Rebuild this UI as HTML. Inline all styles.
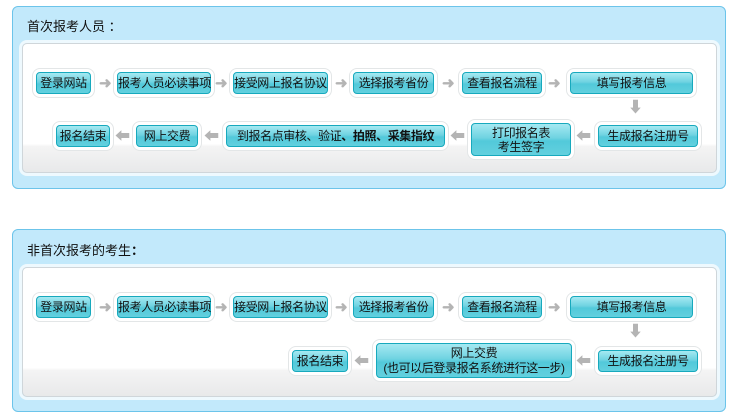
<!DOCTYPE html>
<html><head><meta charset="utf-8">
<style>
*{margin:0;padding:0;box-sizing:border-box}
body{width:737px;height:416px;background:#fff;position:relative;overflow:hidden;font-family:"Liberation Sans","Noto Sans CJK SC","WenQuanYi Zen Hei",sans-serif;}
.outer{position:absolute;left:12px;width:714px;border:1px solid #6cc4ea;border-radius:6px;background:#c2e9fb;}
.hd{position:absolute;left:27px;font-size:13px;color:#111;}
.inner{position:absolute;left:22px;width:695px;border:1px solid #cfd6da;border-radius:5px;background:linear-gradient(#fff 0%,#fff 78%,#f4f4f4 80%,#e8e9ea 100%);box-shadow:0 0 0 3px #eef9fe;}
.b{position:absolute;height:22px;border:1px solid #17a9bd;border-radius:4px;background:linear-gradient(#a6e9f2 0%,#6fd3e1 45%,#52c9da 55%,#63d0de 100%);font-size:12px;letter-spacing:-0.4px;line-height:20px;text-align:center;color:#111;box-shadow:0 0 0 3px #fff,0 0 0 4px #e3e6e7;white-space:nowrap;}
.a{position:absolute;color:#b4b4b4;font-size:15px;line-height:15px;font-weight:bold;}
</style></head><body>

<div class="outer" style="top:6px;height:183px"></div>
<div class="hd" style="top:16px">首次报考人员 ：</div>
<div class="inner" style="top:43px;height:130px"></div>

<div class="b" style="left:36px;top:72px;width:55px">登录网站</div>
<div class="a" style="left:99px;top:76px">➜</div>
<div class="b" style="left:117px;top:72px;width:94px">报考人员必读事项</div>
<div class="a" style="left:215px;top:76px">➜</div>
<div class="b" style="left:233px;top:72px;width:95px">接受网上报名协议</div>
<div class="a" style="left:335px;top:76px">➜</div>
<div class="b" style="left:353px;top:72px;width:81px">选择报考省份</div>
<div class="a" style="left:442px;top:76px">➜</div>
<div class="b" style="left:462px;top:72px;width:80px">查看报名流程</div>
<div class="a" style="left:548px;top:76px">➜</div>
<div class="b" style="left:570px;top:72px;width:123px">填写报考信息</div>
<div class="a" style="left:628px;top:100px">⬇</div>

<div class="b" style="left:56px;top:125px;width:54px">报名结束</div>
<div class="a" style="left:115px;top:129px">⬅</div>
<div class="b" style="left:136px;top:125px;width:62px">网上交费</div>
<div class="a" style="left:204px;top:129px">⬅</div>
<div class="b" style="left:226px;top:125px;width:219px">到报名点审核、验证<b>、拍照、采集指纹</b></div>
<div class="a" style="left:450px;top:129px">⬅</div>
<div class="b" style="left:471px;top:123px;width:100px;height:33px;line-height:14px;padding-top:2px">打印报名表<br>考生签字</div>
<div class="a" style="left:576px;top:129px">⬅</div>
<div class="b" style="left:598px;top:125px;width:100px">生成报名注册号</div>

<div class="outer" style="top:229px;height:183px"></div>
<div class="hd" style="top:240px">非首次报考的考生<b>：</b></div>
<div class="inner" style="top:267px;height:130px"></div>

<div class="b" style="left:36px;top:296px;width:55px">登录网站</div>
<div class="a" style="left:99px;top:300px">➜</div>
<div class="b" style="left:117px;top:296px;width:94px">报考人员必读事项</div>
<div class="a" style="left:215px;top:300px">➜</div>
<div class="b" style="left:233px;top:296px;width:95px">接受网上报名协议</div>
<div class="a" style="left:335px;top:300px">➜</div>
<div class="b" style="left:353px;top:296px;width:81px">选择报考省份</div>
<div class="a" style="left:442px;top:300px">➜</div>
<div class="b" style="left:462px;top:296px;width:80px">查看报名流程</div>
<div class="a" style="left:548px;top:300px">➜</div>
<div class="b" style="left:570px;top:296px;width:123px">填写报考信息</div>
<div class="a" style="left:628px;top:324px">⬇</div>

<div class="b" style="left:292px;top:350px;width:56px">报名结束</div>
<div class="a" style="left:354px;top:354px">⬅</div>
<div class="b" style="left:376px;top:343px;width:196px;height:35px;line-height:15px;padding-top:2px">网上交费<br>(也可以后登录报名系统进行这一步)</div>
<div class="a" style="left:576px;top:354px">⬅</div>
<div class="b" style="left:598px;top:350px;width:100px">生成报名注册号</div>

</body></html>
